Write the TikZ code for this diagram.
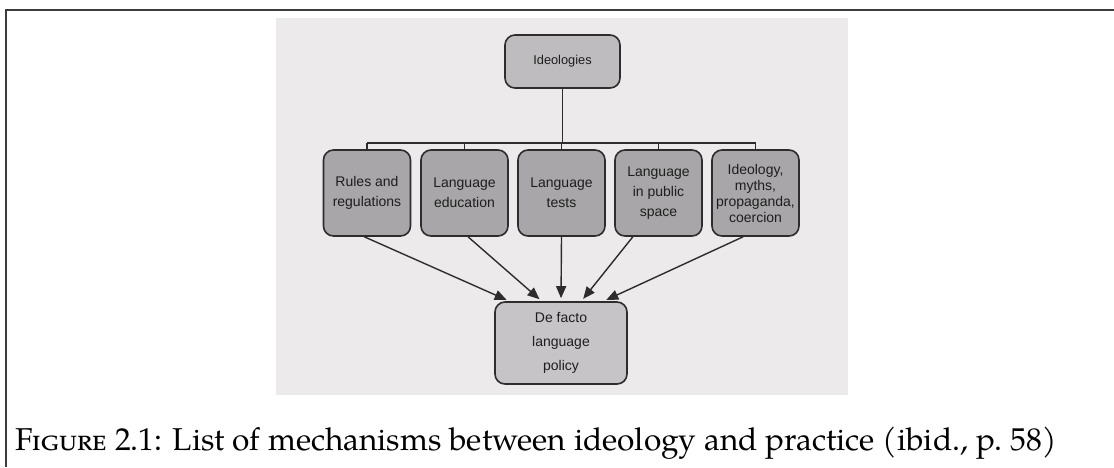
\documentclass[tikz,border=0pt]{standalone}
\usepackage{fontspec}
\newfontfamily\diagfont{Liberation Sans}
\newfontfamily\capfont{TeX Gyre Pagella}
\usetikzlibrary{arrows.meta,calc}
\definecolor{scanbg}{RGB}{236,234,234}
\definecolor{framecol}{RGB}{60,60,60}
\definecolor{boxline}{RGB}{45,45,45}
\definecolor{boxfill}{RGB}{168,166,168}
\definecolor{topfill}{RGB}{190,188,190}
\definecolor{botfill}{RGB}{198,196,198}
\definecolor{inktext}{RGB}{30,30,30}
\tikzset{
  mechbox/.style={draw=boxline, line width=0.8pt, rounded corners=5pt, fill=boxfill,
    minimum width=43.5pt, minimum height=43pt, inner sep=0pt, align=center,
    text=inktext, font=\diagfont\fontsize{7}{10}\selectfont},
  topbox/.style={mechbox, fill=topfill, minimum width=57.5pt, minimum height=26.5pt,
    font=\diagfont\fontsize{6.4}{8}\selectfont},
  botbox/.style={mechbox, fill=botfill, minimum width=66pt, minimum height=41pt,
    font=\diagfont\fontsize{7}{12}\selectfont},
  treeline/.style={draw=boxline, line width=0.7pt},
  arrowline/.style={draw=boxline, line width=0.7pt, shorten >=1.5pt,
    -{Triangle[length=6pt,width=5pt]}}
}
\begin{document}
\begin{tikzpicture}[x=0.5pt,y=-0.5pt]
\useasboundingbox (0,0) rectangle (1114,467);
\fill[white] (0,0) rectangle (1114,467);
\draw[framecol, line width=0.8pt] (6,467) -- (6,10) -- (1114,10);
\fill[scanbg] (276,18) rectangle (848,395);

\node[topbox] (ideo) at (562.5,61.5) {Ideologies};
\node[mechbox] (b1) at (367,193) {Rules and\\regulations};
\node[mechbox] (b2) at (464.5,193) {Language\\education};
\node[mechbox] (b3) at (561.5,193) {Language\\tests};
\node[mechbox] (b4) at (658.5,193) {Language\\in public\\space};
\node[mechbox, font=\diagfont\fontsize{7}{8}\selectfont] (b5) at (755.5,193) {Ideology,\\myths,\\propaganda,\\coercion};
\node[botbox] (df) at (561,343) {De facto\\language\\policy};

\coordinate (bar) at (0,143);
\draw[treeline] (ideo.south) -- (ideo.south |- bar);
\draw[treeline] (b1.north |- bar) -- (b5.north |- bar);
\foreach \b in {b1,b2,b3,b4,b5}{
  \draw[treeline] (\b.north |- bar) -- (\b.north);
}

\draw[arrowline] ($(b1.south west)!0.47!(b1.south east)$) -- ($(df.north west)!0.114!(df.north east)$);
\draw[arrowline] ($(b2.south west)!0.54!(b2.south east)$) -- ($(df.north west)!0.356!(df.north east)$);
\draw[arrowline] ($(b3.south west)!0.5!(b3.south east)$) -- ($(df.north west)!0.5!(df.north east)$);
\draw[arrowline] ($(b4.south west)!0.21!(b4.south east)$) -- ($(df.north west)!0.652!(df.north east)$);
\draw[arrowline] ($(b5.south west)!0.36!(b5.south east)$) -- ($(df.north west)!0.818!(df.north east)$);

\node[anchor=base west, inner sep=0pt, font=\capfont\fontsize{15.8}{19}\selectfont] (cap) at (15,450)
  {F\textsc{igure} 2.1: List of mechanisms between ideology and practice (ibid., p.~58)};
\end{tikzpicture}
\end{document}
